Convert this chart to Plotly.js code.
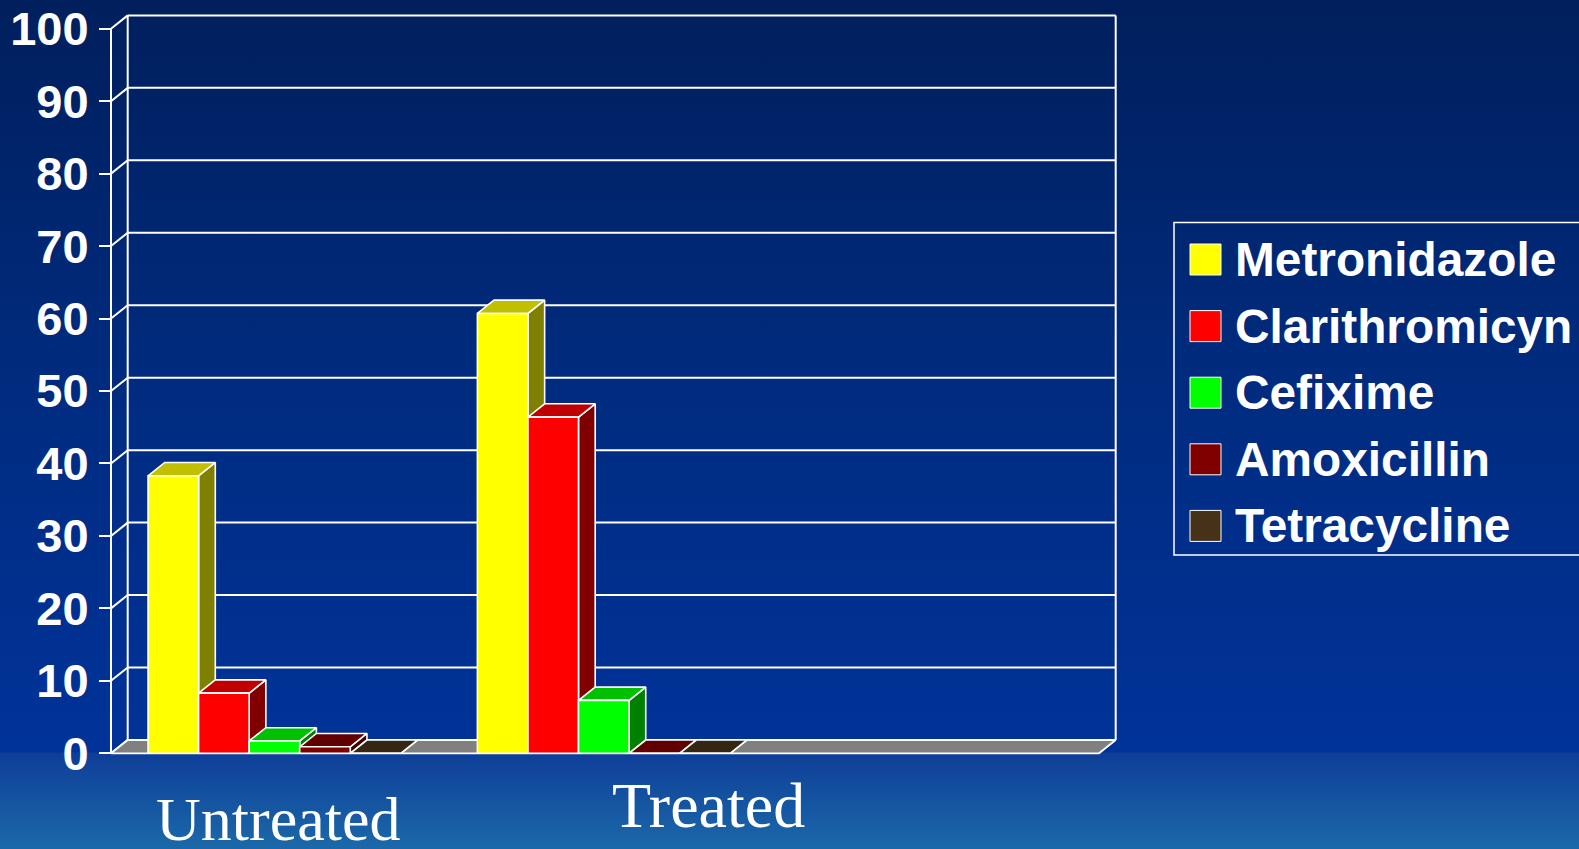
<!DOCTYPE html>
<html><head><meta charset="utf-8">
<script src="https://cdn.plot.ly/plotly-3.0.1.min.js"></script>
<style>
html,body{margin:0;padding:0;width:1579px;height:849px;overflow:hidden;
background:linear-gradient(180deg,#001f5c 0px,#002b7e 370px,#003399 745px,#003399 752px,#0e3e98 753px,#1b69a9 849px);}
#chart{width:1579px;height:849px;}
</style></head><body><div id="chart"></div>
<script>
// ---- data ----
const categories = ['Untreated', 'Treated'];
const seriesNames = ['Metronidazole', 'Clarithromicyn', 'Cefixime', 'Amoxicillin', 'Tetracycline'];
const metronidazole = [38.3, 60.7];
const clarithromicyn = [8.3, 46.4];
const cefixime = [1.7, 7.3];
const amoxicillin = [0.9, 0];
const tetracycline = [0, 0];
const yTicks = [0, 10, 20, 30, 40, 50, 60, 70, 80, 90, 100];

// ---- styles ----
const frontColors = ['#ffff00', '#ff0000', '#00ff00', '#800000', '#453219'];
const topColors   = ['#c0c000', '#c00000', '#00c000', '#600000', '#352614'];
const sideColors  = ['#808000', '#800000', '#008000', '#400000', '#231a0c'];
const values = [metronidazole, clarithromicyn, cefixime, amoxicillin, tetracycline];

// geometry (pixel layout)
const PLOT_L = 106, PLOT_R = 1120, PLOT_T = 10, PLOT_B = 758;
const pxPerX = 988 / 3, pxPerY = 724.6 / 100;
const xFrontLeftPx = 111, y0Px = 753.3;
const xmin = -0.5 - (xFrontLeftPx - PLOT_L) / pxPerX;
const xmax = xmin + (PLOT_R - PLOT_L) / pxPerX;
const ymin = -(PLOT_B - y0Px) / pxPerY;
const ymax = (y0Px - PLOT_T) / pxPerY;
const DX = 16.7 / pxPerX, DY = 13.3 / pxPerY;
const barW = 0.1535, groupStart = -0.3875;
const nSlots = 3;
const X0 = -0.5, X1 = X0 + nSlots;

const px2paperX = p => (p - PLOT_L) / (PLOT_R - PLOT_L);
const px2paperY = p => (PLOT_B - p) / (PLOT_B - PLOT_T);

function poly(xs, ys, fill, lw) {
  return {type: 'scatter', mode: 'lines', x: xs, y: ys, fill: 'toself', fillcolor: fill,
    line: {color: '#ffffff', width: lw || 1.6}, hoverinfo: 'skip', showlegend: false};
}

const traces = [];
// back wall grid lines + connectors + wall edges
const gx = [], gy = [];
yTicks.forEach(v => {
  gx.push(X0 + DX, X1 + DX, null); gy.push(v + DY, v + DY, null);
  gx.push(X0, X0 + DX, null); gy.push(v, v + DY, null);
});
gx.push(X0 + DX, X0 + DX, null, X1 + DX, X1 + DX, null, X0, X0, null);
gy.push(DY, 100 + DY, null, DY, 100 + DY, null, 0, 100, null);
traces.push({type: 'scatter', mode: 'lines', x: gx, y: gy, line: {color: '#ffffff', width: 2},
  hoverinfo: 'skip', showlegend: false});
// floor
traces.push(poly([X0, X1, X1 + DX, X0 + DX, X0], [0, 0, DY, DY, 0], '#808080', 1.8));

// 3D bars: side, top, front, left to right
categories.forEach((c, ci) => {
  values.forEach((arr, si) => {
    const v = arr[ci];
    const a = ci + groupStart + si * barW, b = a + barW;
    traces.push(poly([b, b + DX, b + DX, b, b], [0, DY, v + DY, v, 0], sideColors[si]));
    traces.push(poly([a, b, b + DX, a + DX, a], [v, v, v + DY, v + DY, v], topColors[si]));
    traces.push(poly([a, b, b, a, a], [0, 0, v, v, 0], frontColors[si]));
  });
});

// ---- category labels & legend ----
const annotations = [];
const shapes = [];
const catLabelPos = [{x: 277.5, y: 819, size: 62, h: 56}, {x: 708, y: 805, size: 64, h: 70}];
categories.forEach((c, i) => {
  annotations.push({text: c, xref: 'paper', yref: 'paper', x: px2paperX(catLabelPos[i].x),
    y: px2paperY(catLabelPos[i].y), xanchor: 'center', yanchor: 'middle', showarrow: false,
    height: catLabelPos[i].h, valign: 'middle',
    font: {family: 'Liberation Serif, Times New Roman, serif', size: catLabelPos[i].size, color: '#ffffff'}});
});
shapes.push({type: 'rect', xref: 'paper', yref: 'paper', x0: px2paperX(1174), x1: px2paperX(1600),
  y0: px2paperY(555), y1: px2paperY(222.5), line: {color: '#ffffff', width: 1.5}, fillcolor: 'rgba(0,0,0,0)'});
seriesNames.forEach((name, i) => {
  const cy = 259.5 + i * 66.6;
  shapes.push({type: 'rect', xref: 'paper', yref: 'paper', x0: px2paperX(1190), x1: px2paperX(1221),
    y0: px2paperY(cy + 15.5), y1: px2paperY(cy - 15.5), fillcolor: frontColors[i],
    line: {color: '#ffffff', width: 1}});
  annotations.push({text: '<b>' + name + '</b>', xref: 'paper', yref: 'paper', x: px2paperX(1233),
    y: px2paperY(cy), xanchor: 'left', yanchor: 'middle', showarrow: false,
    font: {family: 'Liberation Sans, Arial, sans-serif', size: 47.8, color: '#ffffff'}});
});

const layout = {
  width: 1579, height: 849,
  margin: {l: PLOT_L, r: 1579 - PLOT_R, t: PLOT_T, b: 849 - PLOT_B, pad: 0},
  paper_bgcolor: 'rgba(0,0,0,0)', plot_bgcolor: 'rgba(0,0,0,0)',
  showlegend: false,
  xaxis: {range: [xmin, xmax], visible: false, fixedrange: true},
  yaxis: {range: [ymin, ymax], anchor: 'free', position: px2paperX(xFrontLeftPx),
    tickvals: yTicks, ticktext: yTicks.map(String), ticks: 'outside', ticklen: 12, tickwidth: 2,
    tickcolor: '#ffffff', showgrid: false, zeroline: false, showline: false,
    tickfont: {family: 'Liberation Sans, Arial, sans-serif', size: 47, color: '#ffffff', weight: 'bold'},
    ticklabelstandoff: 1, fixedrange: true},
  annotations: annotations, shapes: shapes
};
Plotly.newPlot('chart', traces, layout, {staticPlot: true, displayModeBar: false});
</script></body></html>
